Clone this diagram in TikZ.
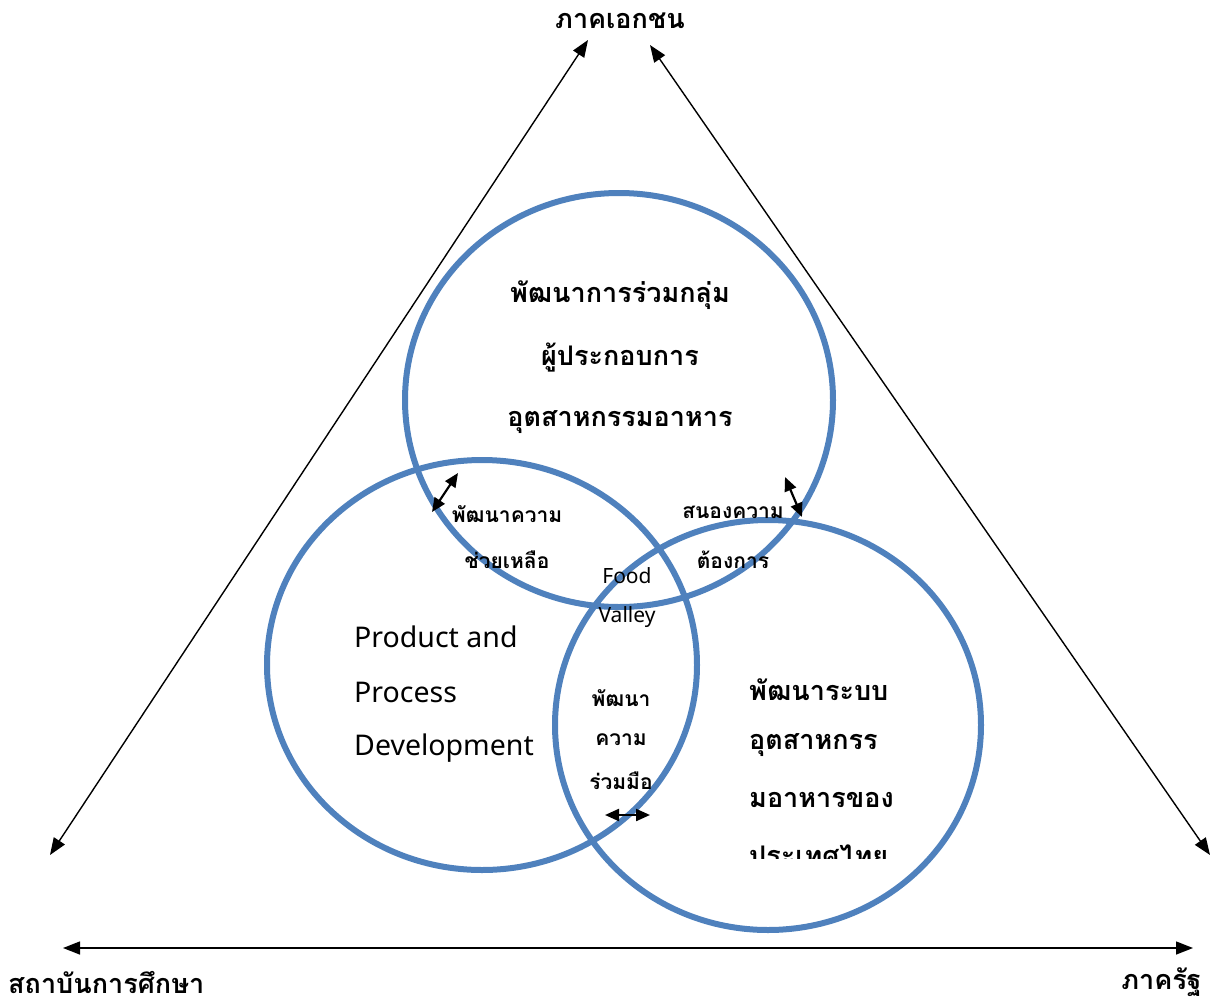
\documentclass[tikz,border=0pt]{standalone}
\usepackage{fontspec}
\newfontfamily\thai[Script=Thai]{Loma}
\newfontfamily\latin{Noto Sans}
\usetikzlibrary{arrows.meta}
\definecolor{ringblue}{HTML}{4F81BD}
\tikzset{
  ring/.style={draw=ringblue,line width=6pt},
  axis/.style={line width=1.4pt,{Triangle[length=17pt,width=13pt]}-{Triangle[length=17pt,width=13pt]}},
  small/.style={line width=2.2pt,{Triangle[length=14pt,width=12pt]}-{Triangle[length=14pt,width=12pt]}},
  big/.style={font=\thai\bfseries\fontsize{27}{30}\selectfont,inner sep=0pt},
  mid/.style={font=\thai\bfseries\fontsize{21}{24}\selectfont,inner sep=0pt},
  eng/.style={font=\latin\fontsize{28.5}{31}\selectfont,inner sep=0pt},
  engs/.style={font=\latin\fontsize{21}{24}\selectfont,inner sep=0pt},
  corner/.style={font=\thai\bfseries\fontsize{27}{30}\selectfont,inner sep=0pt},
}
\begin{document}
\begin{tikzpicture}[x=1pt,y=-1pt]
\useasboundingbox (0,0) rectangle (1213,1004);
% circles
\draw[ring] (619,400) ellipse [x radius=214, y radius=207];
\draw[ring] (482,665) ellipse [x radius=215, y radius=205];
\draw[ring] (768,725) ellipse [x radius=213, y radius=205];
% corner labels
\node[corner] (priv) at (620,21) {ภาคเอกชน};
\node[corner,anchor=west] (edu) at (8,982) {สถาบันการศึกษา};
\node[corner,anchor=east] (gov) at (1202,982) {ภาครัฐ};
% axes
\coordinate (la) at (50,855); \coordinate (lb) at (588,40);
\coordinate (ra) at (650,45); \coordinate (rb) at (1210,855);
\coordinate (ba) at (63,948); \coordinate (bb) at (1193,948);
\draw[axis] (la) -- (lb);
\draw[axis] (ra) -- (rb);
\draw[axis] (ba) -- (bb);
% top circle text
\node[big] (t1) at (620,295) {พัฒนาการร่วมกลุ่ม};
\node[big] (t2) at (620,358) {ผู้ประกอบการ};
\node[big] (t3) at (620,422) {อุตสาหกรรมอาหาร};
% overlaps
\node[mid] (h1) at (507,514) {พัฒนาความ};
\node[mid] (h2) at (507,560) {ช่วยเหลือ};
\node[mid] (s1) at (733,512) {สนองความ};
\node[mid] (s2) at (733,560) {ต้องการ};
\node[engs] (f1) at (627,576) {Food};
\node[engs] (f2) at (627,617) {Valley};
\node[mid] (c1) at (621,698) {พัฒนา};
\node[mid] (c2) at (621,740) {ความ};
\node[mid] (c3) at (621,781) {ร่วมมือ};
% left circle text
\node[eng,anchor=west] (p1) at (354,637) {Product and};
\node[eng,anchor=west] (p2) at (354,692) {Process};
\node[eng,anchor=west] (p3) at (354,748) {Development};
% right circle text
\node[big,anchor=west] (r1) at (749,690) {พัฒนาระบบ};
\node[big,anchor=west] (r2) at (749,745) {อุตสาหกรร};
\node[big,anchor=west] (r3) at (749,800) {มอาหารของ};
\begin{scope}
\clip (700,830) rectangle (960,858);
\node[big,anchor=west] (r4) at (749,855) {ประเทศไทย};
\end{scope}
% small arrows
\coordinate (a1) at (432,512); \coordinate (a2) at (458,473);
\coordinate (b1) at (785,477); \coordinate (b2) at (802,517);
\coordinate (d1) at (605,815); \coordinate (d2) at (650,815);
\draw[small] (a1) -- (a2);
\draw[small] (b1) -- (b2);
\draw[small] (d1) -- (d2);
\end{tikzpicture}
\end{document}
